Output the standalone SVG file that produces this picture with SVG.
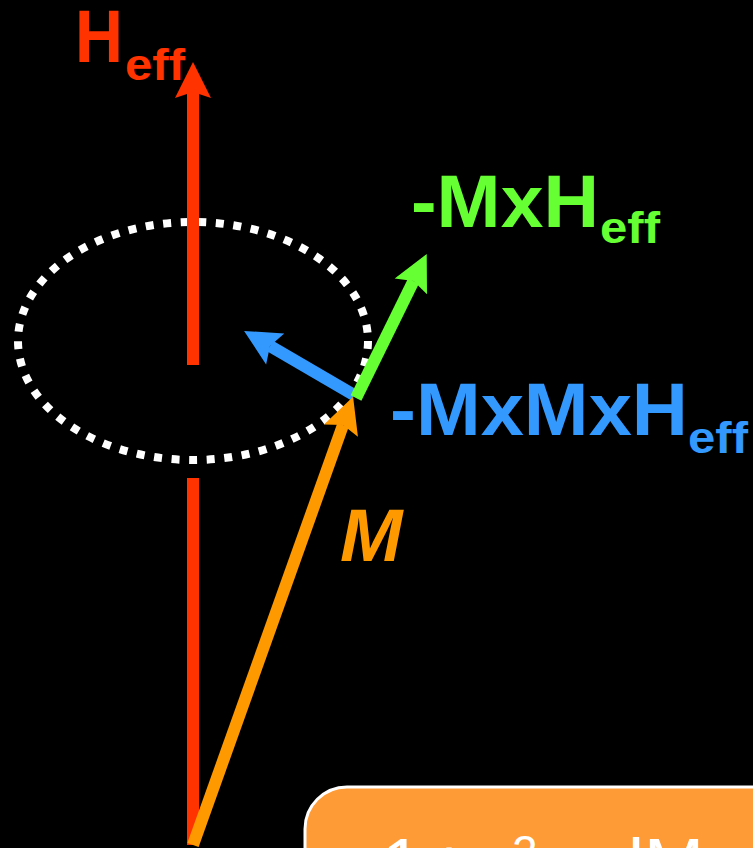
<svg xmlns="http://www.w3.org/2000/svg" width="753" height="848" viewBox="0 0 753 848">
  <style>
    .lbl { font-family: "Liberation Sans", Arial, sans-serif; font-weight: bold; }
    .big { font-size: 75px; }
    .sub { font-size: 44px; }
    .vec { fill: none; stroke-width: 12; stroke-linecap: butt; }
  </style>
  <defs>
    <marker id="ahRed" markerUnits="userSpaceOnUse" orient="auto" markerWidth="40" markerHeight="40" refX="6" refY="18" viewBox="0 0 40 36" overflow="visible">
      <path d="M0,0 L36,18 L0,36 L6,18 Z" fill="#FF3300"/>
    </marker>
    <marker id="ahOrange" markerUnits="userSpaceOnUse" orient="auto" markerWidth="40" markerHeight="40" refX="6" refY="18" viewBox="0 0 40 36" overflow="visible">
      <path d="M0,0 L36,18 L0,36 L6,18 Z" fill="#FF9900"/>
    </marker>
    <marker id="ahGreen" markerUnits="userSpaceOnUse" orient="auto" markerWidth="40" markerHeight="40" refX="6" refY="18" viewBox="0 0 40 36" overflow="visible">
      <path d="M0,0 L36,18 L0,36 L6,18 Z" fill="#66FF33"/>
    </marker>
    <marker id="ahBlue" markerUnits="userSpaceOnUse" orient="auto" markerWidth="40" markerHeight="40" refX="6" refY="18" viewBox="0 0 40 36" overflow="visible">
      <path d="M0,0 L36,18 L0,36 L6,18 Z" fill="#3399FF"/>
    </marker>
  </defs>
  <rect x="0" y="0" width="753" height="848" fill="#000000"/>

  <g id="precession-circle">
    <ellipse cx="193" cy="341" rx="175" ry="119" fill="none" stroke="#FFFFFF" stroke-width="8" stroke-dasharray="8 9.6"/>
  </g>

  <g id="connectors">
    <line id="heff-axis-top" class="vec" x1="193" y1="365" x2="193" y2="92" stroke="#FF3300" marker-end="url(#ahRed)"/>
    <line id="heff-axis-bottom" class="vec" x1="193" y1="478" x2="193" y2="845" stroke="#FF3300"/>
    <line id="damping" class="vec" x1="354" y1="395" x2="270" y2="346" stroke="#3399FF" stroke-width="11" marker-end="url(#ahBlue)"/>
    <line id="precession" class="vec" x1="356" y1="398" x2="413.5" y2="281" stroke="#66FF33" marker-end="url(#ahGreen)"/>
    <line id="magnetization" class="vec" x1="193" y1="845" x2="343" y2="425" stroke="#FF9900" marker-end="url(#ahOrange)"/>
  </g>

  <g id="label-heff">
    <text class="lbl big" x="75" y="62" fill="#FF3300" textLength="48" lengthAdjust="spacingAndGlyphs">H</text>
    <text class="lbl sub" x="125" y="80" fill="#FF3300" textLength="60" lengthAdjust="spacingAndGlyphs">eff</text>
  </g>

  <g id="label-mxheff">
    <text class="lbl big" x="411" y="227" fill="#66FF33" textLength="188" lengthAdjust="spacingAndGlyphs">-MxH</text>
    <text class="lbl sub" x="600" y="243" fill="#66FF33" textLength="60" lengthAdjust="spacingAndGlyphs">eff</text>
  </g>

  <g id="label-mxmxheff">
    <text class="lbl big" x="390" y="435" fill="#3399FF" textLength="298" lengthAdjust="spacingAndGlyphs">-MxMxH</text>
    <text class="lbl sub" x="688" y="453" fill="#3399FF" textLength="60" lengthAdjust="spacingAndGlyphs">eff</text>
  </g>

  <g id="label-m">
    <text class="lbl big" x="340" y="561" fill="#FF9900" font-style="italic">M</text>
  </g>

  <g id="equation-box">
    <rect x="305" y="787" width="520" height="140" rx="42" ry="42" fill="#FF9B37" stroke="#FFFFFF" stroke-width="3"/>
    <text font-family="&quot;Liberation Sans&quot;, Arial, sans-serif" font-size="72" fill="#FFFFFF" y="889"><tspan x="382">1</tspan><tspan x="428">+</tspan><tspan x="462" y="892">α</tspan><tspan x="512" y="868" font-size="46">2</tspan><tspan x="604" y="889">dM</tspan></text>
  </g>
</svg>
